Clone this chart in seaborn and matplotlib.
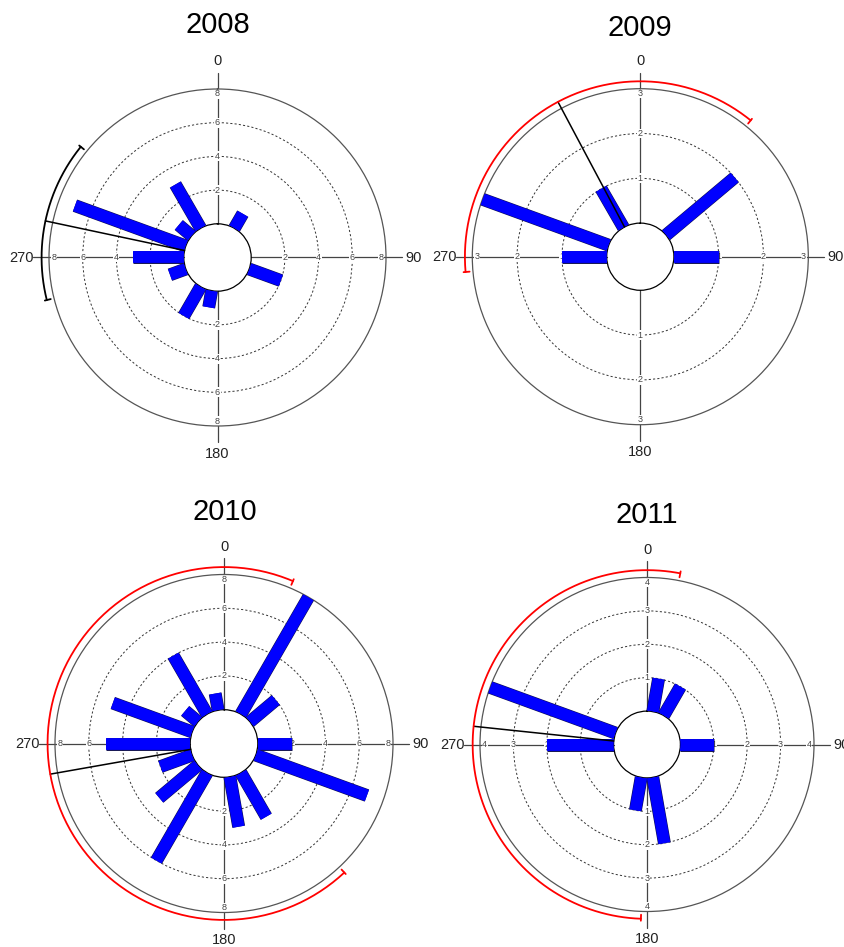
import matplotlib
matplotlib.use("Agg")
import matplotlib.pyplot as plt
import matplotlib.patheffects as pe
import numpy as np
import seaborn as sns

sns.set_style("white")
plt.rcParams["font.family"] = ["Liberation Sans", "DejaVu Sans"]
plt.rcParams["text.color"] = "black"

# --- data (20 degree bins, centres at 10, 30, ... 350) ---
years = ["2008", "2009", "2010", "2011"]

bins_2008 = [30, 110, 190, 210, 250, 270, 290, 310, 330]
counts_2008 = [1, 2, 1, 2, 1, 3, 7, 1, 3]

bins_2009 = [50, 90, 270, 290, 330]
counts_2009 = [2, 1, 1, 3, 1]

bins_2010 = [30, 50, 90, 110, 150, 170, 210, 230, 250, 270, 290, 310, 330, 350]
counts_2010 = [8, 2, 2, 7, 3, 3, 6, 3, 2, 5, 5, 1, 4, 1]

bins_2011 = [10, 30, 90, 170, 190, 270, 290]
counts_2011 = [1, 1, 1, 2, 1, 2, 4]

# mean direction and confidence interval (degrees, clockwise from north)
mean_dir = [282, 332, 260, 276]
ci_low = [256, 265, 137, 182]
ci_high = [309, 39, 23, 11]

# radial scale: dashed rings and outer ring value
ring_ticks = [[2, 4, 6], [1, 2], [2, 4, 6], [1, 2, 3]]
r_max = [8, 3, 8, 4]

all_bins = [bins_2008, bins_2009, bins_2010, bins_2011]
all_counts = [counts_2008, counts_2009, counts_2010, counts_2011]
ci_colors = ["black", "red", "red", "red"]

# axes placement in pixels: (centre x, centre y from top, radius)
W, H = 844, 947
panels = [(217.5, 257.5, 168.5), (640.3, 256.7, 168), (224, 743.5, 169), (647, 744.5, 167)]
title_pos = [(218, 25), (640, 28), (225, 512), (647, 515)]

fig = plt.figure(figsize=(W / 100, H / 100), dpi=100)

for i, year in enumerate(years):
    cx, cy, R = panels[i]
    ax = fig.add_axes([(cx - R) / W, (H - cy - R) / H, 2 * R / W, 2 * R / H],
                      projection="polar")
    rm = r_max[i]
    ax.set_theta_zero_location("N")
    ax.set_theta_direction(-1)
    ax.set_rorigin(-rm / 4)
    ax.set_ylim(0, rm)
    ax.set_xticks([])
    ax.set_yticks(ring_ticks[i])
    ax.set_yticklabels([])
    ax.yaxis.grid(True, linestyle=(0, (2.2, 2.2)), color="#333333", linewidth=0.7)
    ax.xaxis.grid(False)
    ax.spines["polar"].set_color("#555555")
    ax.spines["polar"].set_linewidth(0.9)
    ax.spines["inner"].set_color("black")
    ax.spines["inner"].set_linewidth(0.9)

    # crosshair axes with outer labels
    for ang, lab in zip([0, 90, 180, 270], ["0", "90", "180", "270"]):
        th = np.deg2rad(ang)
        ax.plot([th, th], [0, 1.12 * rm], color="#444444", lw=0.9,
                clip_on=False, zorder=1)
        ax.text(th, 1.205 * rm, lab, fontsize=10.5, color="#222222",
                ha="center", va="center", clip_on=False)
        for t in ring_ticks[i] + [rm]:
            rr = t if t < rm else rm - 0.035 * rm
            ax.text(th, rr, str(t), fontsize=6.5, color="#444444",
                    ha="center", va="center", zorder=2,
                    bbox=dict(fc="white", ec="none", pad=0.3))

    # rose bars
    ax.vlines(np.deg2rad(all_bins[i]), 0, all_counts[i], colors="#0000ff",
              linewidth=8.5, capstyle="butt", zorder=3,
              path_effects=[pe.Stroke(linewidth=9.3, foreground="#101050"), pe.Normal()])

    # mean direction and confidence arc
    r_arc = 1.055 * rm
    th_m = np.deg2rad(mean_dir[i])
    ax.plot([th_m, th_m], [0, r_arc], color="black", lw=1.1, clip_on=False, zorder=4)
    lo, hi = ci_low[i], ci_high[i]
    if hi < lo:
        hi += 360
    arc = np.deg2rad(np.linspace(lo, hi, 300))
    ax.plot(arc, np.full_like(arc, r_arc), color=ci_colors[i], lw=1.3,
            clip_on=False, zorder=4)
    for end in (lo, hi):
        te = np.deg2rad(end)
        ax.plot([te, te], [r_arc - 0.03 * rm, r_arc + 0.015 * rm],
                color=ci_colors[i], lw=1.3, clip_on=False, zorder=4)

    tx, ty = title_pos[i]
    fig.text(tx / W, 1 - ty / H, year, fontsize=21, ha="center", va="center")

fig.savefig("out.png", dpi=100)
